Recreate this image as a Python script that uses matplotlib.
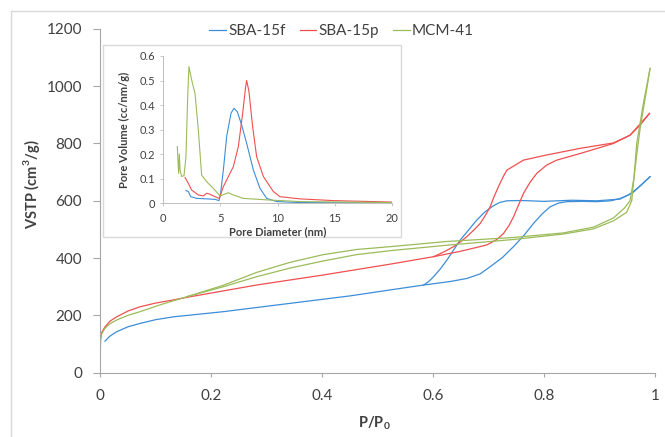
import matplotlib
matplotlib.use("Agg")
import matplotlib.pyplot as plt
from matplotlib.patches import Rectangle

plt.rcParams['font.family'] = ['Lato', 'DejaVu Sans']
plt.rcParams['mathtext.fontset'] = 'custom'
plt.rcParams['mathtext.rm'] = 'Lato'
plt.rcParams['mathtext.bf'] = 'Lato:bold'

# --- isotherm data (P/P0, cm3/g) ---
sba15f_ads_x = [0.009, 0.018, 0.03, 0.05, 0.072, 0.1, 0.132, 0.222, 0.342, 0.45, 0.523, 0.583, 0.63,
                0.661, 0.685, 0.703, 0.725, 0.745, 0.765, 0.781, 0.797, 0.811, 0.826, 0.841, 0.87,
                0.895, 0.92, 0.937, 0.952, 0.961, 0.975, 0.991]
sba15f_ads_y = [110, 128, 143, 160, 172, 185, 195, 213, 242, 268, 289, 306, 318,
                329, 345, 370, 402, 440, 482, 521, 555, 579, 592, 597, 598,
                597, 600, 608, 620, 632, 655, 684]
sba15f_des_x = [0.991, 0.961, 0.937, 0.895, 0.85, 0.80, 0.76, 0.733, 0.72, 0.709, 0.694, 0.679,
                0.664, 0.649, 0.637, 0.625, 0.613, 0.601, 0.592, 0.583]
sba15f_des_y = [684, 630, 606, 600, 602, 598, 601, 600, 594, 583, 562, 533,
                498, 463, 428, 393, 362, 335, 318, 306]

sba15p_ads_x = [0.0, 0.001, 0.003, 0.009, 0.018, 0.03, 0.05, 0.072, 0.1, 0.132, 0.162, 0.282, 0.402,
                0.523, 0.601, 0.65, 0.697, 0.715, 0.727, 0.737, 0.745, 0.754, 0.763, 0.775, 0.787,
                0.805, 0.823, 0.865, 0.925, 0.955, 0.973, 0.99]
sba15p_ads_y = [27, 114, 140, 160, 180, 195, 215, 230, 243, 254, 265, 306, 341,
                379, 405, 424, 446, 465, 486, 514, 544, 585, 626, 665, 696,
                725, 742, 765, 800, 829, 864, 905]
sba15p_des_x = [0.99, 0.955, 0.925, 0.865, 0.805, 0.763, 0.733, 0.727, 0.718, 0.709, 0.703, 0.694,
                0.685, 0.673, 0.661, 0.649, 0.637, 0.62, 0.601]
sba15p_des_y = [905, 829, 802, 783, 760, 742, 707, 686, 650, 610, 579, 548,
                521, 497, 475, 456, 440, 422, 405]

mcm41_ads_x = [0.0, 0.009, 0.018, 0.03, 0.05, 0.072, 0.11, 0.156, 0.222, 0.282, 0.342, 0.402, 0.462,
               0.523, 0.625, 0.745, 0.835, 0.889, 0.925, 0.949, 0.958, 0.963, 0.967, 0.973, 0.979,
               0.985, 0.991]
mcm41_ads_y = [126, 155, 171, 184, 200, 213, 238, 265, 300, 335, 365, 390, 412,
               426, 445, 465, 484, 502, 530, 560, 600, 700, 800, 870, 940,
               1000, 1062]
mcm41_des_x = [0.991, 0.985, 0.979, 0.973, 0.967, 0.962, 0.955, 0.945, 0.925, 0.889, 0.835, 0.745,
               0.625, 0.523, 0.462, 0.402, 0.342, 0.282, 0.222, 0.156]
mcm41_des_y = [1062, 990, 920, 850, 760, 680, 600, 575, 540, 508, 488, 472,
               458, 440, 430, 412, 385, 350, 305, 265]

# --- pore size distribution (nm, cc/nm/g) ---
psd_f_x = [1.98, 2.19, 2.39, 2.92, 3.79, 4.52, 4.87, 5.01, 5.25, 5.54, 5.92, 6.18, 6.47, 6.85,
           7.29, 7.87, 8.45, 9.04, 9.91, 11.95, 20]
psd_f_y = [0.052, 0.048, 0.027, 0.020, 0.018, 0.016, 0.011, 0.041, 0.136, 0.272, 0.367, 0.387,
           0.373, 0.319, 0.244, 0.136, 0.061, 0.020, 0.007, 0.003, 0.001]
psd_p_x = [1.90, 2.19, 2.48, 3.06, 3.50, 3.79, 4.08, 4.52, 4.90, 5.25, 5.69, 6.12, 6.56, 6.94,
           7.20, 7.29, 7.49, 7.81, 8.16, 8.75, 9.62, 10.2, 11.95, 14.87, 20]
psd_p_y = [0.105, 0.081, 0.054, 0.034, 0.030, 0.041, 0.037, 0.027, 0.020, 0.068, 0.109, 0.149,
           0.231, 0.367, 0.475, 0.500, 0.455, 0.312, 0.190, 0.109, 0.048, 0.027, 0.018, 0.011, 0.005]
psd_m_x = [1.22, 1.34, 1.40, 1.46, 1.60, 1.81, 1.98, 2.13, 2.24, 2.48, 2.77, 3.06, 3.35, 3.79,
           4.37, 4.96, 5.69, 6.12, 7.0, 9.04, 11.95, 20]
psd_m_y = [0.231, 0.122, 0.201, 0.136, 0.109, 0.113, 0.19, 0.434, 0.557, 0.502, 0.448, 0.299,
           0.115, 0.088, 0.061, 0.030, 0.043, 0.034, 0.020, 0.014, 0.007, 0.003]

labels = ["SBA-15f", "SBA-15p", "MCM-41"]
colors = ["#3d8dd8", "#f04f4f", "#9bbb59"]
x_ticks = [0, 0.2, 0.4, 0.6, 0.8, 1.0]
x_ticklabels = ["0", "0.2", "0.4", "0.6", "0.8", "1"]
y_ticks = [0, 200, 400, 600, 800, 1000, 1200]
ix_ticks = [0, 5, 10, 15, 20]
iy_ticks = [0, 0.1, 0.2, 0.3, 0.4, 0.5, 0.6]
iy_ticklabels = ["0", "0.1", "0.2", "0.3", "0.4", "0.5", "0.6"]

fig = plt.figure(figsize=(6.65, 4.37), dpi=100)
txt = "#404040"
axc = "#a6a6a6"

# chart-area border (left and top visible)
fig.patches.append(Rectangle((11/665, -0.1), 1.2, 1.1 - 11/437, transform=fig.transFigure,
                             fill=False, edgecolor="#d9d9d9", lw=1, zorder=0))

ax = fig.add_axes([0.1504, 0.1471, 0.8346, 0.7868], zorder=1)
ax.patch.set_alpha(0)
lw = 0.9
series = [(sba15f_ads_x, sba15f_ads_y, sba15f_des_x, sba15f_des_y),
          (sba15p_ads_x, sba15p_ads_y, sba15p_des_x, sba15p_des_y),
          (mcm41_ads_x, mcm41_ads_y, mcm41_des_x, mcm41_des_y)]
for (ax_x, ax_y, dx, dy), c, lab in zip(series, colors, labels):
    ax.plot(ax_x, ax_y, color=c, lw=lw, label=lab)
    ax.plot(dx, dy, color=c, lw=lw)

ax.set_xlim(0, 1)
ax.set_ylim(0, 1200)
ax.set_xticks(x_ticks)
ax.set_xticklabels(x_ticklabels)
ax.set_yticks(y_ticks)
for s in ["top", "right"]:
    ax.spines[s].set_visible(False)
for s in ["left", "bottom"]:
    ax.spines[s].set_color(axc)
ax.tick_params(axis="y", length=5, width=0.8, color=axc, pad=8, labelsize=11, labelcolor=txt)
ax.tick_params(axis="x", length=3, width=0.8, color=axc, pad=9, labelsize=11, labelcolor=txt)
ax.set_ylabel(r"VSTP (cm$^{\mathbf{3}}$/g)", fontsize=10.5, fontweight="bold", color=txt)
ax.yaxis.set_label_coords(-0.105, 0.549)
ax.set_xlabel(r"P/P$_{\mathbf{0}}$", fontsize=10.5, fontweight="bold", color=txt)
ax.xaxis.set_label_coords(0.494, -0.12)

leg = ax.legend(loc="center", bbox_to_anchor=(0.5138, 0.929), bbox_transform=fig.transFigure,
                ncol=3, frameon=False, fontsize=11, handlelength=1.1, handletextpad=0.15,
                columnspacing=0.9)
for t in leg.get_texts():
    t.set_color(txt)

# inset frame
fig.patches.append(Rectangle((103/665, 1 - 237/437), 298/665, 192/437, transform=fig.transFigure,
                             facecolor="white", edgecolor="#d9d9d9", lw=1, zorder=2))

ins = fig.add_axes([0.2456, 0.5348, 0.3439, 0.3371], zorder=3)
ins.patch.set_alpha(0)
ins.plot(psd_f_x, psd_f_y, color=colors[0], lw=0.8)
ins.plot(psd_p_x, psd_p_y, color=colors[1], lw=0.8)
ins.plot(psd_m_x, psd_m_y, color=colors[2], lw=0.8)
ins.set_xlim(0, 20)
ins.set_ylim(0, 0.6)
ins.set_xticks(ix_ticks)
ins.set_yticks(iy_ticks)
ins.set_yticklabels(iy_ticklabels)
for s in ["top", "right"]:
    ins.spines[s].set_visible(False)
for s in ["left", "bottom"]:
    ins.spines[s].set_color("#bfbfbf")
    ins.spines[s].set_linewidth(0.7)
ins.tick_params(axis="y", length=2, width=0.6, color="#bfbfbf", pad=4, labelsize=8, labelcolor=txt)
ins.tick_params(axis="x", length=2, width=0.6, color="#bfbfbf", pad=5, labelsize=8, labelcolor=txt)
ins.set_ylabel("Pore Volume (cc/nm/g)", fontsize=8, fontweight="bold", color=txt)
ins.yaxis.set_label_coords(-0.145, 0.4976)
ins.set_xlabel("Pore Diameter (nm)", fontsize=8, fontweight="bold", color=txt)
ins.xaxis.set_label_coords(0.499, -0.154)

fig.savefig("out.png", dpi=100)
